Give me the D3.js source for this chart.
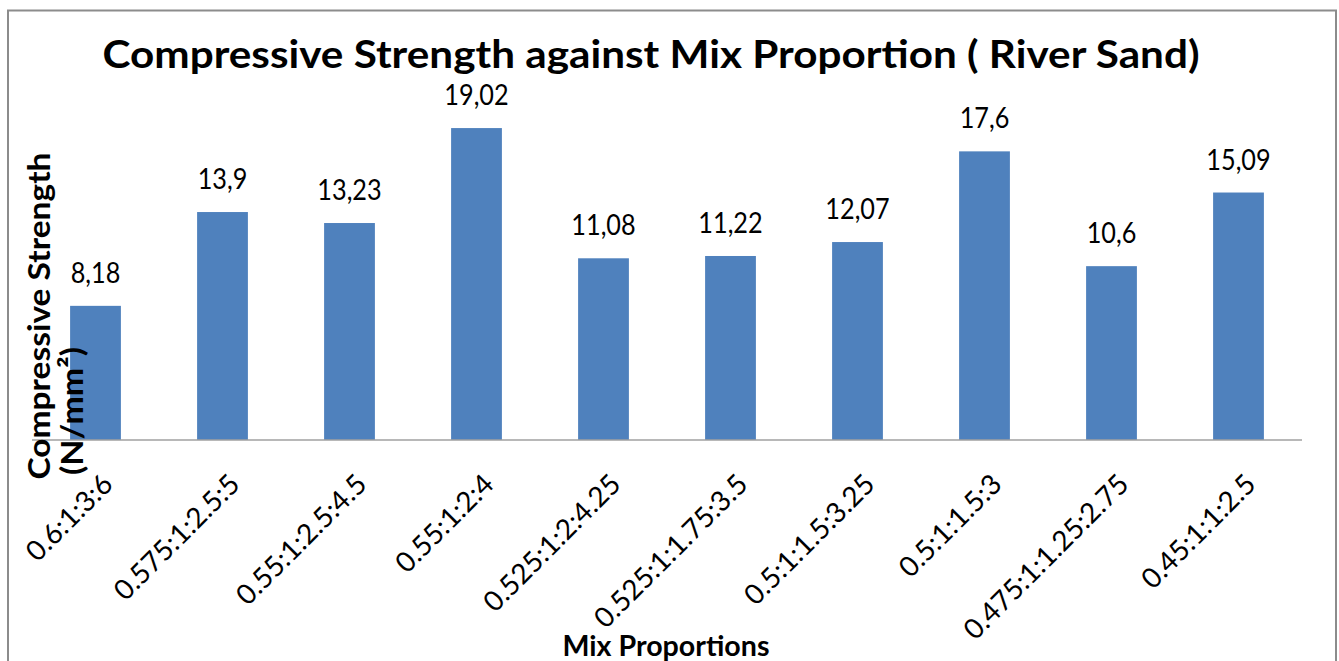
<!DOCTYPE html>
<html>
<head>
<meta charset="utf-8">
<script src="https://cdn.jsdelivr.net/npm/d3@7"></script>
<style>
  body { margin: 0; background: #ffffff; }
  text { font-family: Lato, "Open Sans", sans-serif; fill: #000000; }
</style>
</head>
<body>
<div id="chart"></div>
<script>
// Chart data
var mixProportions = [
  "0.6:1:3:6",
  "0.575:1:2.5:5",
  "0.55:1:2.5:4.5",
  "0.55:1:2:4",
  "0.525:1:2:4.25",
  "0.525:1:1.75:3.5",
  "0.5:1:1.5:3.25",
  "0.5:1:1.5:3",
  "0.475:1:1.25:2.75",
  "0.45:1:1:2.5"
];
var strengthValues = [8.18, 13.9, 13.23, 19.02, 11.08, 11.22, 12.07, 17.6, 10.6, 15.09];
var valueLabels = ["8,18", "13,9", "13,23", "19,02", "11,08", "11,22", "12,07", "17,6", "10,6", "15,09"];

var width = 1339;
var height = 661;

// Setup SVG
var svg = d3
  .select("#chart")
  .append("svg")
  .attr("width", width)
  .attr("height", height);

// Chart area border
svg
  .append("rect")
  .attr("x", 8)
  .attr("y", 10.5)
  .attr("width", 1328)
  .attr("height", 700)
  .attr("fill", "none")
  .attr("stroke", "#8c8c8c")
  .attr("stroke-width", 2);

var x = d3
  .scaleBand()
  .domain(mixProportions)
  .range([32, 1302])
  .paddingInner(0.6)
  .paddingOuter(0.3);

var y = d3.scaleLinear().domain([0, 20]).range([440, 112]);

// squeeze text a bit so Lato looks closer to Calibri
function squeeze(sel, k) {
  sel.each(function () {
    var len = this.getComputedTextLength();
    d3.select(this)
      .attr("textLength", len * k)
      .attr("lengthAdjust", "spacingAndGlyphs");
  });
}

// Bars
svg
  .selectAll(".bar")
  .data(strengthValues)
  .enter()
  .append("rect")
  .attr("class", "bar")
  .attr("x", function (d, i) {
    return x(mixProportions[i]);
  })
  .attr("y", function (d) {
    return y(d);
  })
  .attr("width", x.bandwidth())
  .attr("height", function (d) {
    return y(0) - y(d);
  })
  .attr("fill", "#4f81bd");

// Baseline
svg
  .append("line")
  .attr("x1", 32)
  .attr("x2", 1302)
  .attr("y1", y(0))
  .attr("y2", y(0))
  .attr("stroke", "#a0a0a0")
  .attr("stroke-width", 1.5);

// Value labels above bars
svg
  .selectAll(".value")
  .data(strengthValues)
  .enter()
  .append("text")
  .attr("class", "value")
  .attr("x", function (d, i) {
    return x(mixProportions[i]) + x.bandwidth() / 2;
  })
  .attr("y", function (d) {
    return y(d) - 23;
  })
  .attr("text-anchor", "middle")
  .attr("font-size", "29px")
  .text(function (d, i) {
    return valueLabels[i];
  })
  .call(squeeze, 0.87);

// Category labels, rotated
svg
  .selectAll(".tick-label")
  .data(mixProportions)
  .enter()
  .append("text")
  .attr("class", "tick-label")
  .attr("transform", function (d) {
    var cx = x(d) + x.bandwidth() / 2;
    return "translate(" + (cx + 19) + "," + (y(0) + 46) + ") rotate(-45)";
  })
  .attr("text-anchor", "end")
  .attr("font-size", "28px")
  .text(function (d) {
    return d;
  });

// Title
svg
  .append("text")
  .attr("x", 651)
  .attr("y", 68)
  .attr("text-anchor", "middle")
  .attr("font-size", "39px")
  .attr("font-weight", "bold")
  .attr("textLength", 1097)
  .attr("lengthAdjust", "spacingAndGlyphs")
  .text("Compressive Strength against Mix Proportion ( River Sand)");

// Y axis title (two lines)
svg
  .append("text")
  .attr("transform", "translate(50,316) rotate(-90)")
  .attr("text-anchor", "middle")
  .attr("font-size", "31px")
  .attr("font-weight", "bold")
  .attr("textLength", 327)
  .attr("lengthAdjust", "spacingAndGlyphs")
  .text("Compressive Strength");

svg
  .append("text")
  .attr("transform", "translate(83,411) rotate(-90)")
  .attr("text-anchor", "middle")
  .attr("font-size", "31px")
  .attr("font-weight", "bold")
  .attr("textLength", 128)
  .attr("lengthAdjust", "spacingAndGlyphs")
  .text("(N/mm²)");

// X axis title
svg
  .append("text")
  .attr("x", 666)
  .attr("y", 656)
  .attr("text-anchor", "middle")
  .attr("font-size", "29px")
  .attr("font-weight", "bold")
  .attr("textLength", 207)
  .attr("lengthAdjust", "spacingAndGlyphs")
  .text("Mix Proportions");
</script>
</body>
</html>
